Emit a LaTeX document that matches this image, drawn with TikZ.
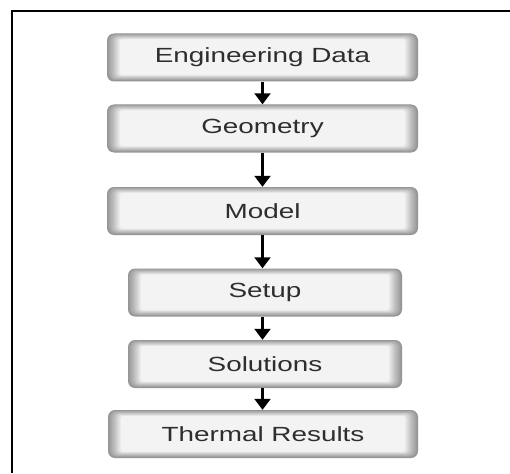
\documentclass[tikz,border=0pt]{standalone}
\usepackage{fontspec}
\newfontfamily\boxfont{Liberation Sans}[FakeStretch=1.36]
\usetikzlibrary{arrows.meta}
\definecolor{txt}{HTML}{2E2E2E}
\tikzset{
  stepbox/.style={minimum width=#1, minimum height=48pt, inner sep=0pt,
    rounded corners=7pt, fill=black!42, text=txt,
    font=\boxfont\fontsize{20.5pt}{24pt}\selectfont,
    path picture={
      \foreach \k in {1,...,12} {
        \pgfmathsetmacro\c{42-3.1*\k}
        \pgfmathsetmacro\dx{1.1*\k}
        \pgfmathsetmacro\dy{0.5*\k}
        \pgfmathsetmacro\rr{max(7-0.4*\k,2)}
        \fill[black!\c, rounded corners=\rr pt]
          ([xshift=\dx pt,yshift=-\dy pt]path picture bounding box.north west)
          rectangle
          ([xshift=-\dx pt,yshift=\dy pt+0.5pt]path picture bounding box.south east);
      }
    }},
  flow/.style={line width=2.2pt, -{Triangle[width=16pt,length=11pt]}}
}
\begin{document}
\begin{tikzpicture}[x=1pt,y=-1pt]
  \useasboundingbox[fill=white] (0,0) rectangle (510,473);
  \draw[line width=2pt] (12,473) -- (12,11) -- (510,11);
  \node[stepbox=311pt] (ed)  at (262.5,57.5) {Engineering Data};
  \node[stepbox=311pt] (geo) at (262.5,128.5) {Geometry};
  \node[stepbox=311pt] (mod) at (262.5,211) {Model};
  \node[stepbox=274pt] (set) at (265,292.5) {Setup};
  \node[stepbox=274pt] (sol) at (265,364) {Solutions};
  \node[stepbox=310pt] (thr) at (263,434) {Thermal Results};
  \draw[flow] (ed.south)  -- (ed.south |- geo.north);
  \draw[flow] (geo.south) -- (geo.south |- mod.north);
  \draw[flow] (mod.south) -- (mod.south |- set.north);
  \draw[flow] (set.south -| mod.south) -- (mod.south |- sol.north);
  \draw[flow] (sol.south -| mod.south) -- (mod.south |- thr.north);
\end{tikzpicture}
\end{document}
